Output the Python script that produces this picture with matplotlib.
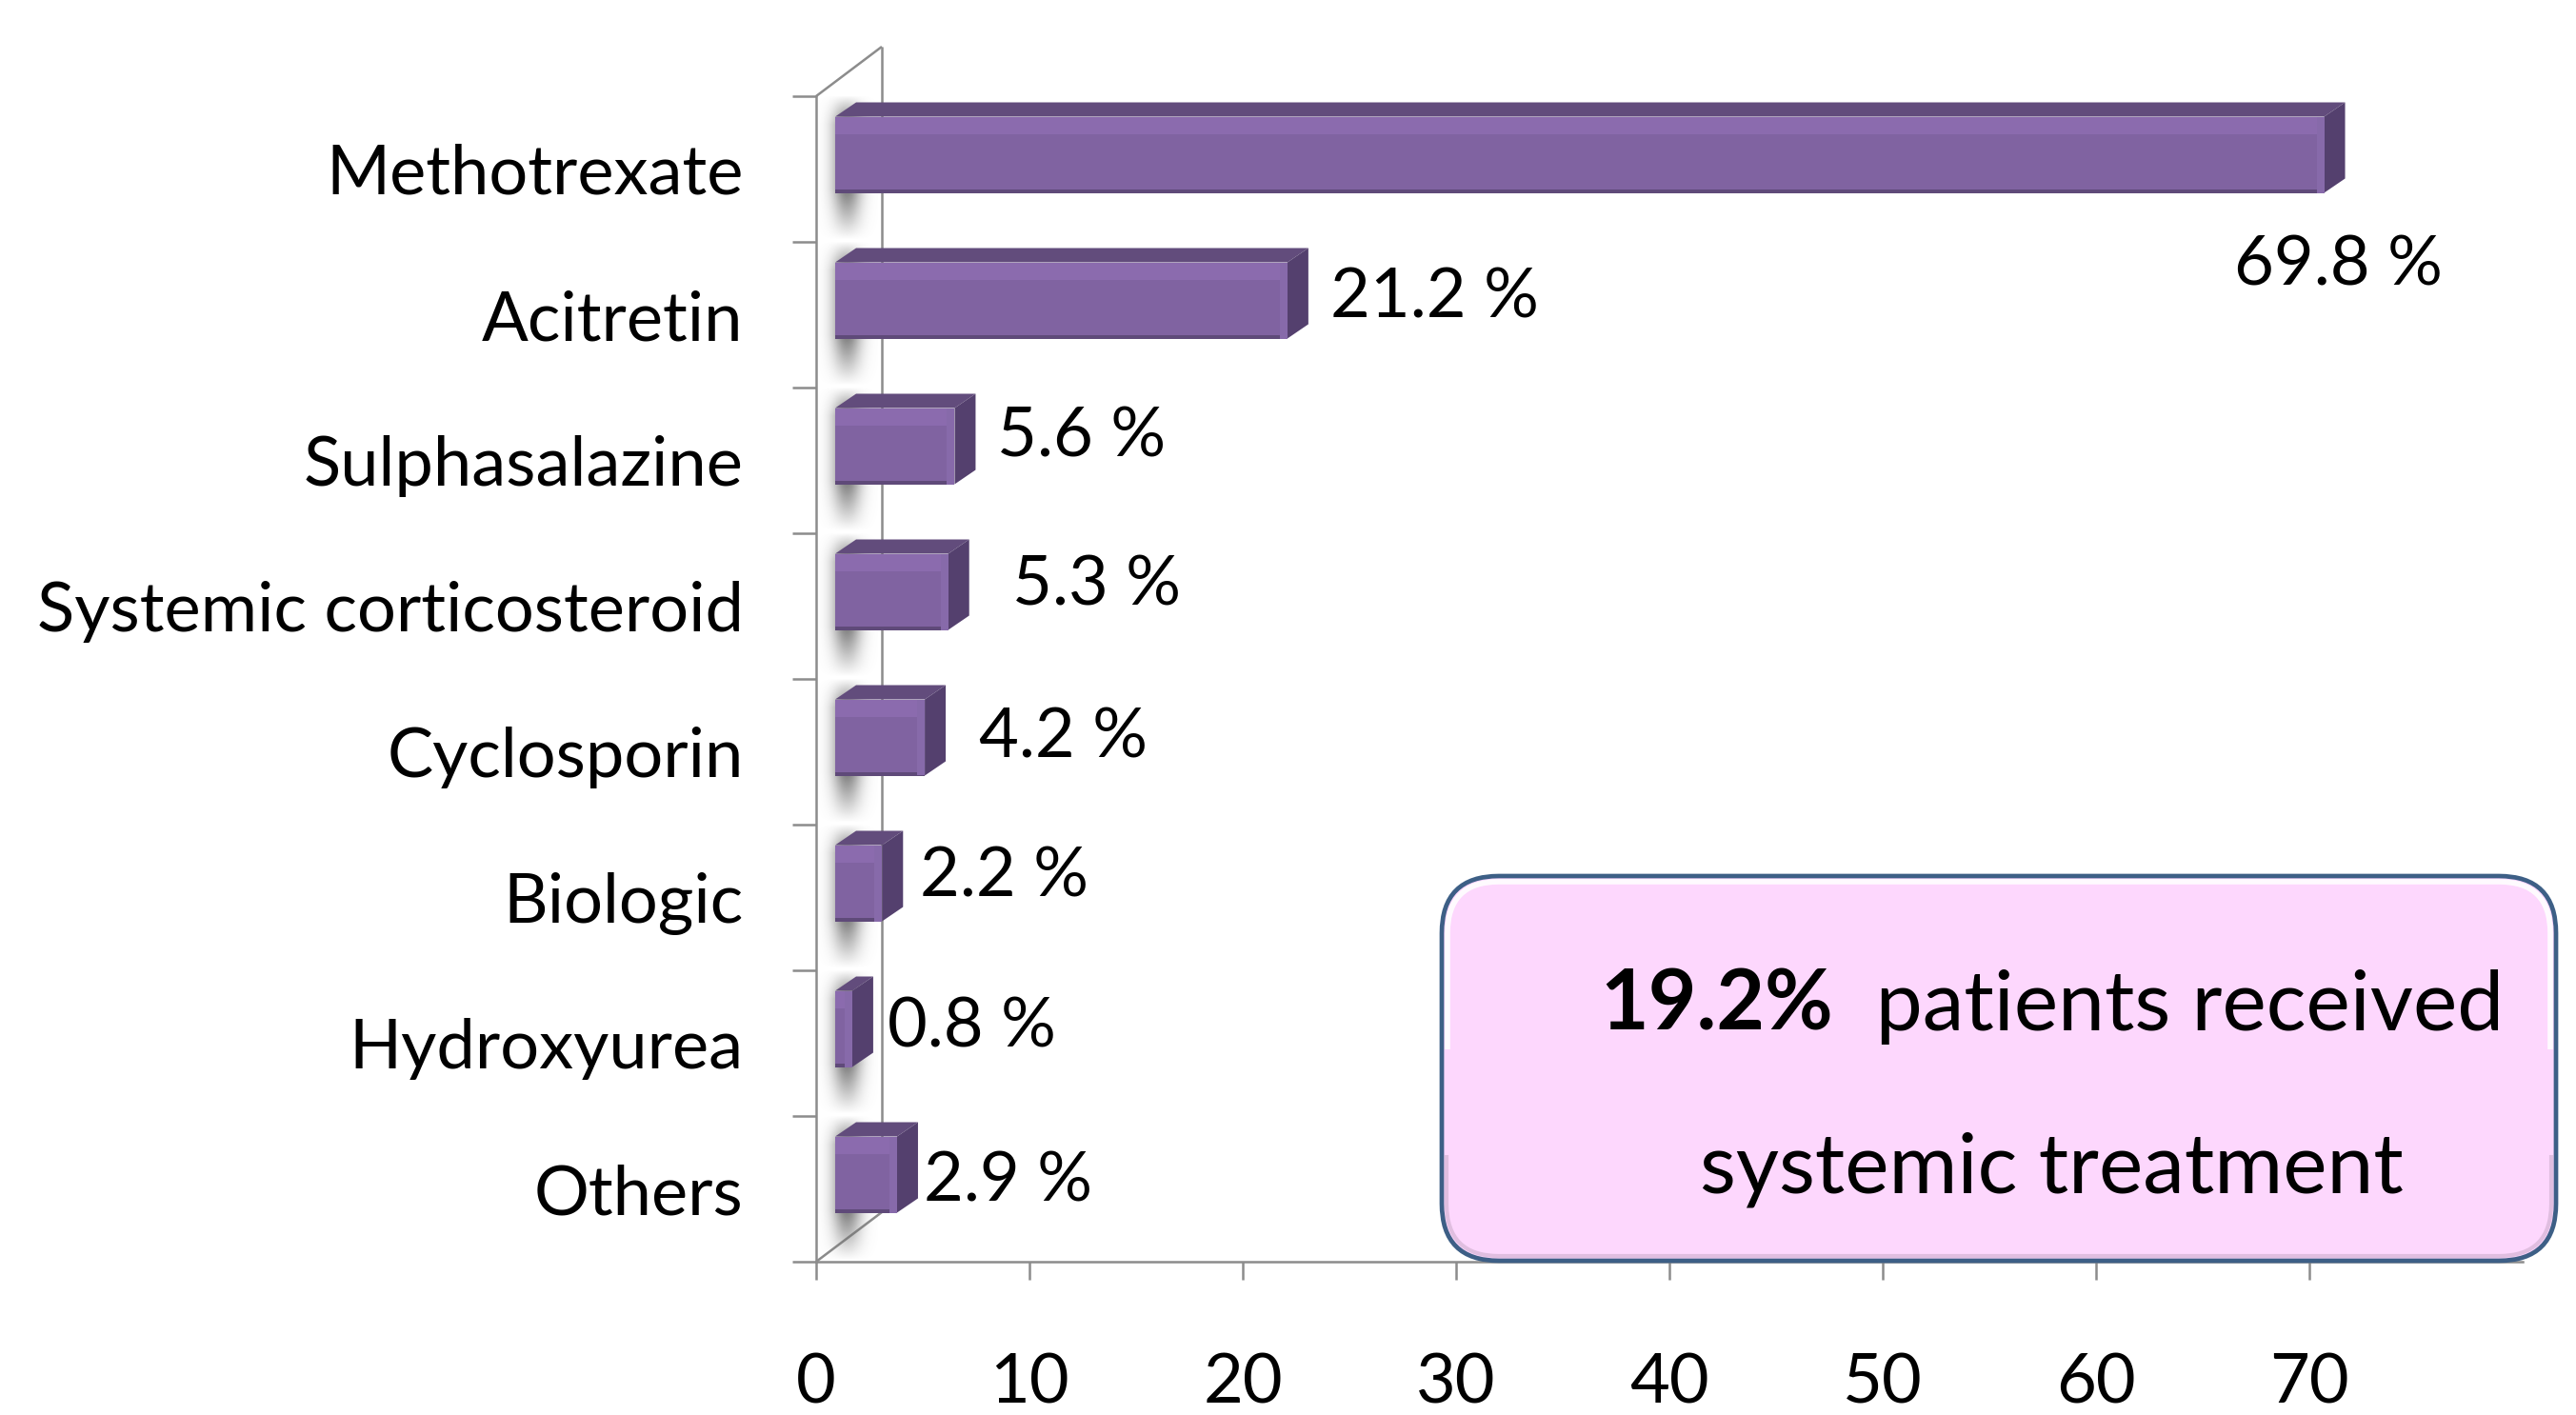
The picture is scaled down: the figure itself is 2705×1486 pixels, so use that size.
import numpy as np
import matplotlib.pyplot as plt
from matplotlib.patches import Polygon, FancyBboxPatch, Rectangle
from matplotlib.text import Annotation

plt.rcParams['font.family'] = ['Lato', 'DejaVu Sans']

# data
drugs = ["Methotrexate", "Acitretin", "Sulphasalazine", "Systemic corticosteroid",
         "Cyclosporin", "Biologic", "Hydroxyurea", "Others"]
share = [69.8, 21.2, 5.6, 5.3, 4.2, 2.2, 0.8, 2.9]
value_labels = ["69.8 %", "21.2 %", "5.6 %", "5.3 %", "4.2 %", "2.2 %", "0.8 %", "2.9 %"]
xticks = [0, 10, 20, 30, 40, 50, 60, 70]
note_bold = "19.2%"
note_rest = "  patients received"
note_line2 = "systemic treatment"

# where the value labels sit, in pixels from (bar end, row centre); +dy is down
label_nudge = [(-75, 95), (65, -23), (65, -31), (87, -27),
               (77, -20), (60, -28), (57, -22), (48, -13)]

FRONT = "#8063a1"
TOP = "#624c7c"
SIDE = "#54406e"
LIGHT = "#8b6bae"
GRID = "#8c8c8c"

fig = plt.figure(figsize=(27.05, 14.86), dpi=100)
ax = fig.add_axes([857 / 2705, 1 - 1325 / 1486, (2649 - 857) / 2705, (1325 - 101) / 1486])
n = len(drugs)
ax.set_xlim(0, 80)
ax.set_ylim(0, n)

# pixel -> data helpers
px_x = ax.transData.transform((1, 0))[0] - ax.transData.transform((0, 0))[0]
px_y = ax.transData.transform((0, 1))[1] - ax.transData.transform((0, 0))[1]
def dx(p):
    return p / px_x
def dy(p):
    return p / px_y

rows = np.arange(n)[::-1] + 0.5

# side wall of the 3d frame
wx, wy = dx(69), dy(52)
for xs, ys in [([0, wx], [n, n + wy]), ([wx, wx], [wy, n + wy]), ([0, wx], [0, wy])]:
    ax.plot(xs, ys, color=GRID, lw=1.8, clip_on=False, zorder=1, solid_capstyle='butt')

# bar geometry (pixels)
fx, fy, fh, bx, by = dx(20), dy(15), dy(80), dx(22), dy(15)

# soft shadow sprite
gx = np.linspace(-3, 3, 60)
gy = np.linspace(0, 1, 120)
alpha = np.outer(np.clip(np.minimum(gy / 0.2, (1 - gy) / 0.35), 0, 1), np.exp(-gx ** 2 / 2)) * 0.9
sprite = np.zeros((120, 60, 4))
sprite[..., :3] = 0.42
sprite[..., 3] = alpha

for yc, v in zip(rows, share):
    y0, y1 = yc - fh / 2 + fy, yc + fh / 2 + fy
    x0, x1 = fx, v + fx
    ax.imshow(sprite, extent=[dx(32) - dx(32), dx(32) + dx(32), y0 - dy(50), y1 + dy(22)],
              aspect='auto', zorder=2, interpolation='bilinear', origin='upper')
    ax.add_patch(Polygon([(x0, y1), (x1, y1), (x1 + bx, y1 + by), (x0 + bx, y1 + by)],
                         closed=True, fc=TOP, ec='none', zorder=3))
    ax.add_patch(Polygon([(x1, y0), (x1 + bx, y0 + by), (x1 + bx, y1 + by), (x1, y1)],
                         closed=True, fc=SIDE, ec='none', zorder=3))
    ax.barh(yc + fy, v, left=fx, height=fh, color=FRONT, zorder=4)
    ax.barh(y1 - dy(9), v, left=fx, height=dy(18), color=LIGHT, zorder=4)
    ax.barh(y0 + dy(2), v, left=fx, height=dy(4), color="#5f4a79", zorder=4)
    ax.barh(yc + fy, min(dx(8), v), left=x1 - min(dx(8), v), height=fh, color="#876aaa", zorder=4)

for yc, v, lab, (ox, oy) in zip(rows, share, value_labels, label_nudge):
    ax.annotate(lab, (v, yc), xytext=(ox * 0.72, -oy * 0.72), textcoords='offset points',
                ha='left', va='center_baseline', fontsize=52, color='black', zorder=6)

for s in ['top', 'right']:
    ax.spines[s].set_visible(False)
for s in ['left', 'bottom']:
    ax.spines[s].set_color(GRID)
    ax.spines[s].set_linewidth(1.8)

ax.set_xticks(xticks)
ax.set_xticklabels([str(t) for t in xticks])
ax.tick_params(axis='x', length=14, width=1.8, color=GRID, labelsize=52, pad=55)
ax.set_yticks(np.arange(n + 1))
ax.set_yticklabels([])
ax.tick_params(axis='y', which='major', length=18, width=1.8, color=GRID)
ax.set_yticks(rows, minor=True)
ax.set_yticklabels(drugs, minor=True)
ax.tick_params(axis='y', which='minor', length=0, labelsize=52, pad=55)

# summary box, laid out in inches of the figure
inch = fig.dpi_scale_trans
bx0, by0, bw, bh = 15.14, 1.62, 11.70, 4.04
box = FancyBboxPatch((bx0, by0), bw, bh, boxstyle="round,pad=0,rounding_size=0.6",
                     transform=inch, fc="#fdd7fd", ec="#3d5f86", lw=3.4, zorder=5)
fig.patches.append(box)
# bevel: white rim on top, soft shade at the bottom
top_clip = Rectangle((bx0, by0 + bh * 0.55), bw, bh, transform=inch)
rim = FancyBboxPatch((bx0 + 0.06, by0 + 0.06), bw - 0.12, bh - 0.12,
                     boxstyle="round,pad=0,rounding_size=0.54", transform=inch,
                     fc='none', ec='white', lw=4, alpha=0.9, zorder=5.1)
rim.set_clip_path(top_clip)
fig.patches.append(rim)
bot_clip = Rectangle((bx0, by0 - 0.1), bw, bh * 0.3, transform=inch)
shade = FancyBboxPatch((bx0 + 0.05, by0 + 0.05), bw - 0.1, bh - 0.1,
                       boxstyle="round,pad=0,rounding_size=0.55", transform=inch,
                       fc='none', ec='#c4a6c4', lw=3, alpha=0.5, zorder=5.1)
shade.set_clip_path(bot_clip)
fig.patches.append(shade)

t1 = fig.text(16.80, 14.86 - 10.49, note_bold, transform=inch,
              fontsize=63, fontweight='bold', ha='left', va='center_baseline', zorder=6)
t2 = Annotation(note_rest, xy=(1, 0), xycoords=t1, ha='left', va='bottom', fontsize=63,
                annotation_clip=False, zorder=6)
fig.add_artist(t2)
fig.text(21.54, 14.86 - 12.21, note_line2, transform=inch,
         fontsize=63, ha='center', va='center_baseline', zorder=6)

fig.savefig("out.png", dpi=100)
